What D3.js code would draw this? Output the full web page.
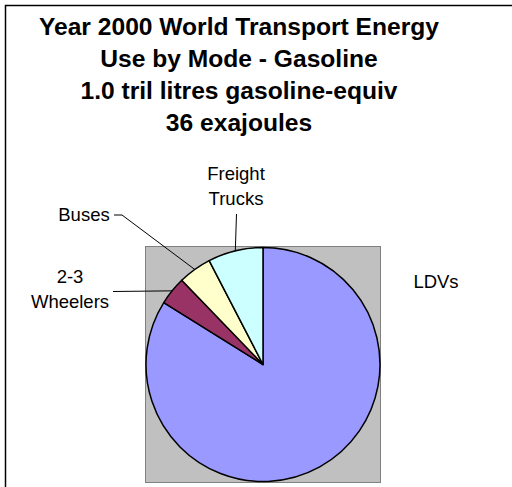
<!DOCTYPE html>
<html>
<head>
<meta charset="utf-8">
<script src="https://cdn.jsdelivr.net/npm/d3@7"></script>
<style>
  body { margin: 0; background: #fff; }
  text { font-family: "Liberation Sans", Arial, sans-serif; fill: #000; }
</style>
</head>
<body>
<script>
// chart data
var modes = ["LDVs", "2-3 Wheelers", "Buses", "Freight Trucks"];
var shares = [83.8, 3.9, 4.6, 7.6];
var titleLines = ["Year 2000 World Transport Energy", "Use by Mode - Gasoline",
                  "1.0 tril litres gasoline-equiv", "36 exajoules"];

var colors = ["#9999FF", "#993366", "#FFFFCC", "#CCFFFF"];

var w = 512, h = 487;
var svg = d3.select("body").append("svg")
    .attr("width", w)
    .attr("height", h);

// outer chart frame
svg.append("rect")
   .attr("x", 5.5).attr("y", 5.5)
   .attr("width", 530).attr("height", 520)
   .attr("fill", "#fff")
   .attr("stroke", "#000")
   .attr("stroke-width", 1.5);

// title
svg.append("g").selectAll("text")
   .data(titleLines)
   .enter()
   .append("text")
   .attr("x", 239)
   .attr("y", function(d, i) { return 35 + i * 32; })
   .attr("text-anchor", "middle")
   .style("font-size", "24.6px")
   .style("font-weight", "bold")
   .text(function(d) { return d; });

// plot area
svg.append("rect")
   .attr("x", 145.5).attr("y", 246.5)
   .attr("width", 235).attr("height", 236)
   .attr("fill", "#C0C0C0")
   .attr("stroke", "#808080")
   .attr("stroke-width", 1);

var cx = 263, cy = 364.5, r = 117;

var pie = d3.pie().sort(null).value(function(d) { return d; });
var arcs = pie(shares);
var arc = d3.arc().innerRadius(0).outerRadius(r);

var g = svg.append("g").attr("transform", "translate(" + cx + "," + cy + ")");

g.selectAll("path")
 .data(arcs)
 .enter()
 .append("path")
 .attr("d", arc)
 .attr("fill", function(d, i) { return colors[i]; })
 .attr("stroke", "#000")
 .attr("stroke-width", 1.5)
 .attr("stroke-linejoin", "round");

// edge point of a slice at its middle angle
function edgePoint(d) {
  var a = (d.startAngle + d.endAngle) / 2;
  return [cx + r * Math.sin(a), cy - r * Math.cos(a)];
}

// label layout (lines of text, anchor x, first baseline, leader start points)
var labels = [
  { lines: ["LDVs"], x: 436, y: 288, leader: null },
  { lines: ["2-3", "Wheelers"], x: 70, y: 283, leader: [[113, 291.5]] },
  { lines: ["Buses"], x: 84, y: 221, leader: [[114, 215], [122, 215]] },
  { lines: ["Freight", "Trucks"], x: 236, y: 180, leader: [[236.5, 214]] }
];

labels.forEach(function(lab, i) {
  var t = svg.append("text")
     .attr("text-anchor", "middle")
     .style("font-size", "18.5px");
  lab.lines.forEach(function(s, j) {
    t.append("tspan")
     .attr("x", lab.x)
     .attr("y", lab.y + j * 24.5)
     .text(s);
  });
  if (lab.leader) {
    var pts = lab.leader.concat([edgePoint(arcs[i])]);
    svg.append("path")
       .attr("d", d3.line()(pts))
       .attr("fill", "none")
       .attr("stroke", "#000")
       .attr("stroke-width", 1);
  }
});
</script>
</body>
</html>
